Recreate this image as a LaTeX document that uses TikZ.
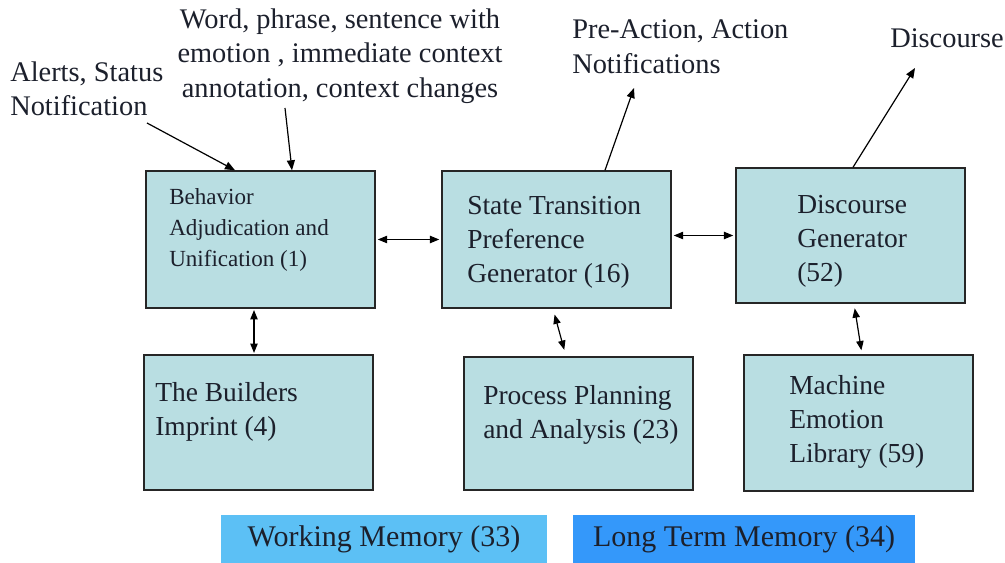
\documentclass[tikz,border=0pt]{standalone}
\usepackage{fontspec}
\setmainfont{Liberation Serif}
\newfontfamily\diagramfont{Liberation Serif}
\usetikzlibrary{arrows.meta,calc}

\definecolor{boxfill}{RGB}{185,222,226}
\definecolor{wmfill}{RGB}{92,192,245}
\definecolor{ltmfill}{RGB}{52,152,250}
\definecolor{ink}{RGB}{28,32,44}

\begin{document}
\begin{tikzpicture}[x=0.75pt,y=-0.75pt,
  module/.style={draw=black!85, line width=1.1pt, fill=boxfill, inner sep=0pt,
                 minimum width=171.75pt},
  memory/.style={inner sep=0pt, text=ink, font=\diagramfont\fontsize{22.5}{27}\selectfont},
  boxtext/.style={anchor=west, align=left, inner sep=0pt, text=ink,
                  font=\diagramfont\fontsize{20.6}{25.6}\selectfont},
  smalltext/.style={anchor=west, align=left, inner sep=0pt, text=ink,
                  font=\diagramfont\fontsize{17.3}{23.3}\selectfont},
  note/.style={inner sep=0pt, text=ink, font=\diagramfont\fontsize{21.3}{25.9}\selectfont},
  arr/.style={line width=0.9pt, -{Triangle[length=7.5pt,width=6pt]}},
  dbl/.style={line width=0.9pt, {Triangle[length=7pt,width=5.5pt]}-{Triangle[length=7pt,width=5.5pt]}}
]
\useasboundingbox (0,0) rectangle (1005,563);
\fill[white] (0,0) rectangle (1005,563);

% upper row of modules
\node[module, minimum height=102.75pt] (bau) at (260.5,239.5) {};
\node[module, minimum height=102.75pt] (stp) at (556.5,239.5) {};
\node[module, minimum height=101.25pt] (dg)  at (850.5,235.5) {};

% lower row of modules
\node[module, minimum height=101.25pt] (bi)  at (258.5,422.5) {};
\node[module, minimum height=99.75pt]  (ppa) at (578.5,423.5) {};
\node[module, minimum height=102pt]    (mel) at (858.5,423) {};

% module labels
\node[smalltext] (bau-t) at (169,230) {Behavior\\Adjudication and\\Unification (1)};
\node[boxtext] (stp-t) at (467,242) {State Transition\\Preference\\Generator (16)};
\node[boxtext] (dg-t)  at (797,241) {Discourse\\Generator\\(52)};
\node[boxtext] (bi-t)  at (155,412) {The Builders\\Imprint (4)};
\node[boxtext] (ppa-t) at (483,415) {Process Planning\\and Analysis (23)};
\node[boxtext] (mel-t) at (789,422) {Machine\\Emotion\\Library (59)};

% memory bars
\node[memory, fill=wmfill, minimum width=244.5pt, minimum height=36pt] (wm)
  at (384,539) {Working Memory (33)};
\node[memory, fill=ltmfill, minimum width=256.5pt, minimum height=36pt] (ltm)
  at (744,539) {Long Term Memory (34)};

% inputs and outputs
\node[note, anchor=west, align=left] (alerts) at (10,89) {Alerts, Status\\Notification};
\node[note, align=center] (words) at (340,56)
  {Word, phrase, sentence with\\emotion , immediate context\\annotation, context changes};
\node[note, anchor=west, align=left] (preact) at (572,47) {Pre-Action, Action\\Notifications};
\node[note, anchor=west] (disc) at (890,38) {Discourse};

\coordinate (alertsTail) at (147,123);
\coordinate (wordsTail) at (285,108);
\coordinate (preactHead) at (634,88);
\coordinate (discHead) at (915,68);

\draw[arr] (alertsTail) -- ($(bau.north)+(-25.5,0)$);
\draw[arr] (wordsTail) -- ($(bau.north)+(31.5,0)$);
\draw[arr] ($(stp.north)+(48.5,0)$) -- (preactHead);
\draw[arr] ($(dg.north)+(2.5,0)$) -- (discHead);

% links between modules
\draw[dbl, shorten <=1.5pt, shorten >=1.5pt] (bau.east) -- (bau.east -| stp.west);
\draw[dbl, shorten <=1.5pt, shorten >=1.5pt] (dg.west -| stp.east) -- (dg.west);
\draw[dbl, shorten <=1pt, shorten >=1pt] ($(bau.south)+(-6.5,0)$) -- ($(bi.north)+(-4.5,0)$);
\draw[dbl, shorten <=4.5pt, shorten >=5pt] ($(stp.south)+(-3.5,0)$) -- ($(ppa.north)+(-12.5,0)$);
\draw[dbl, shorten <=3.5pt, shorten >=3pt] ($(dg.south)+(3.5,0)$) -- ($(mel.north)+(3.5,0)$);
\end{tikzpicture}
\end{document}
